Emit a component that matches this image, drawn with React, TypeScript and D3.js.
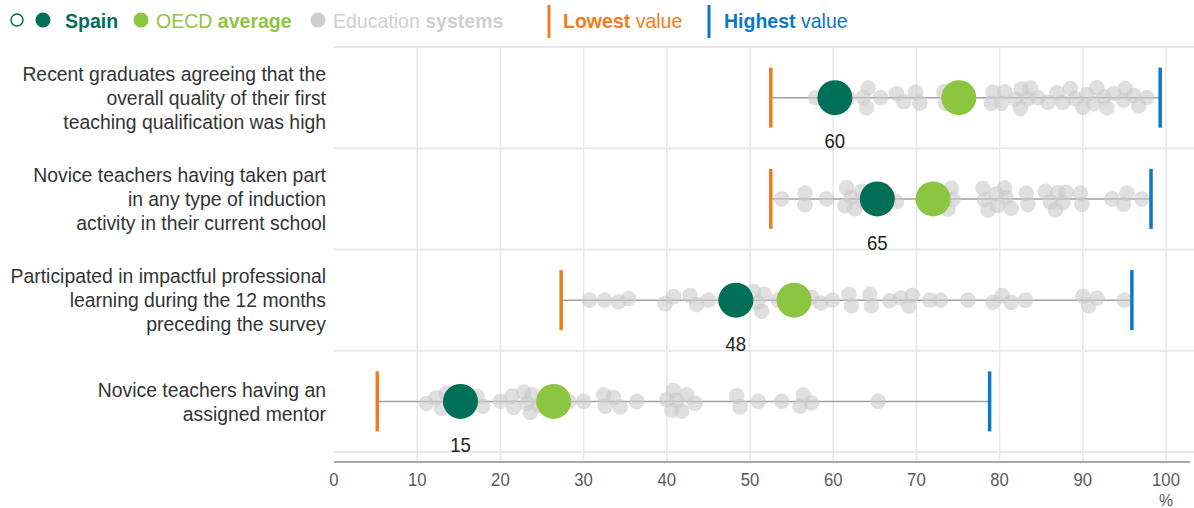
import React, { useMemo } from "react";
import * as d3 from "d3";

const categories = [
  ["Recent graduates agreeing that the", "overall quality of their first", "teaching qualification was high"],
  ["Novice teachers having taken part", "in any type of induction", "activity in their current school"],
  ["Participated in impactful professional", "learning during the 12 months", "preceding the survey"],
  ["Novice teachers having an", "assigned mentor"],
];
const spainValues = [60.2, 65.3, 48.3, 15.2];
const spainLabels = ["60", "65", "48", "15"];
const oecdValues = [75.1, 72.0, 55.3, 26.4];
const lowestValues = [52.5, 52.5, 27.3, 5.2];
const highestValues = [99.3, 98.2, 95.9, 78.8];
const systemsRow1 = [57.9, 61.8, 63.6, 64.2, 64.0, 65.7, 67.6, 68.5, 69.9, 70.4, 73.3, 73.5, 79.0, 79.2, 80.2, 80.6, 81.9, 82.5, 82.6, 83.4, 83.7, 84.6, 85.8, 86.9, 87.6, 88.5, 89.1, 90.0, 90.5, 91.3, 91.7, 92.5, 92.9, 93.7, 94.9, 95.1, 96.1, 96.7, 97.7];
const systemsRow2 = [53.8, 56.6, 56.6, 59.2, 61.4, 61.6, 62.2, 62.6, 63.4, 63.8, 66.5, 67.6, 73.8, 74.2, 74.4, 78.0, 78.2, 78.6, 79.6, 79.8, 80.6, 80.8, 81.4, 83.2, 83.4, 85.5, 86.1, 86.7, 87.0, 87.6, 88.0, 89.7, 89.9, 93.5, 94.9, 95.3, 97.1];
const systemsRow3 = [30.7, 32.5, 34.2, 35.4, 39.8, 40.8, 42.8, 43.6, 45.0, 46.9, 50.4, 50.9, 51.4, 51.7, 53.4, 57.4, 58.5, 59.9, 61.9, 62.2, 64.4, 64.6, 66.8, 68.1, 69.1, 69.5, 71.6, 72.9, 76.2, 79.2, 80.3, 81.4, 83.1, 90.0, 90.7, 91.7, 95.0];
const systemsRow4 = [11.1, 12.3, 12.9, 13.5, 14.0, 17.2, 17.9, 20.0, 21.4, 21.6, 22.8, 23.2, 23.6, 23.8, 24.6, 25.5, 28.2, 30.0, 32.4, 32.6, 33.6, 34.4, 36.4, 40.0, 40.6, 40.8, 41.2, 41.8, 42.4, 43.4, 48.4, 48.8, 51.0, 53.8, 56.0, 56.4, 57.4, 65.4];
const systems = [systemsRow1, systemsRow2, systemsRow3, systemsRow4];
const xTicks = [0, 10, 20, 30, 40, 50, 60, 70, 80, 90, 100];

const W = 1194, H = 508;
const FONT = "'Liberation Sans', Arial, sans-serif";
const C_SPAIN = "#006f57";
const C_OECD = "#8cc540";
const C_SYS = "#c9c9c9";
const C_LOW = "#f47a20";
const C_HIGH = "#0c78c3";
const SX = 0.93;

function NText({ x, y, children, anchor = "start", sx = SX, ...rest }: any) {
  return (
    <text transform={`translate(${x},${y}) scale(${sx},1)`} textAnchor={anchor} dominantBaseline="central" {...rest}>
      {children}
    </text>
  );
}

export default function App() {
  const x = d3.scaleLinear().domain([0, 100]).range([334, 1166]);
  const y = d3.scaleBand<number>().domain(d3.range(categories.length)).range([47, 452]).padding(0);
  const band = y.bandwidth();

  const swarms = useMemo(() => {
    return systems.map((vals) => {
      const nodes = vals.map((v, i) => ({ v, x: x(v), y: ((i * 7) % 5) - 2 }));
      const sim = d3
        .forceSimulation(nodes as any)
        .force("x", d3.forceX((d: any) => x(d.v)).strength(1))
        .force("y", d3.forceY(0).strength(0.1))
        .force("c", d3.forceCollide(5.8))
        .stop();
      for (let i = 0; i < 200; i++) sim.tick();
      return nodes.map((n: any) => ({ v: n.v, cx: x(n.v), dy: Math.max(-11, Math.min(11, n.y)) }));
    });
  }, []);

  return (
    <svg width={W} height={H} style={{ position: "absolute", left: 0, top: 0, background: "#fff" }} fontFamily={FONT}>
      {/* legend */}
      <g fontSize={21}>
        <circle cx={17} cy={20} r={6} fill="#fff" stroke={C_SPAIN} strokeWidth={1.5} />
        <circle cx={43} cy={20} r={7.5} fill={C_SPAIN} />
        <NText x={65} y={21} fill={C_SPAIN} fontWeight="bold">Spain</NText>
        <circle cx={141} cy={20} r={7.5} fill={C_OECD} />
        <NText x={156} y={21} fill={C_OECD}>OECD <tspan fontWeight="bold">average</tspan></NText>
        <circle cx={318} cy={20} r={7.5} fill={C_SYS} opacity={0.9} />
        <NText x={333} y={21} fill="#cfcfcf">Education <tspan fontWeight="bold">systems</tspan></NText>
        <line x1={549} x2={549} y1={5} y2={38} stroke={C_LOW} strokeWidth={3} />
        <NText x={563} y={21} fill={C_LOW}><tspan fontWeight="bold">Lowest</tspan> value</NText>
        <line x1={709} x2={709} y1={5} y2={38} stroke={C_HIGH} strokeWidth={3} />
        <NText x={724} y={21} fill={C_HIGH}><tspan fontWeight="bold">Highest</tspan> value</NText>
      </g>

      {/* gridlines */}
      {xTicks.slice(1).map((t) => (
        <line key={"g" + t} x1={x(t)} x2={x(t)} y1={47} y2={462} stroke="#e8e8e8" strokeWidth={1.5} />
      ))}
      {d3.range(categories.length + 1).map((i) => (
        <line key={"h" + i} x1={333} x2={1194} y1={47 + i * band} y2={47 + i * band} stroke="#e8e8e8" strokeWidth={2} />
      ))}

      {/* axis */}
      <line x1={334} x2={1190} y1={462} y2={462} stroke="#a6a6a6" strokeWidth={2} />
      {xTicks.map((t) => (
        <NText key={"t" + t} x={x(t)} y={480} fontSize={18} fill="#595959" anchor="middle">{t}</NText>
      ))}
      <NText x={x(100)} y={500} fontSize={17} fill="#595959" anchor="middle">%</NText>

      {categories.map((lines, i) => {
        const cy = (y(i) as number) + band / 2;
        const lh = 24;
        return (
          <g key={"r" + i}>
            {lines.map((l, j) => (
              <NText key={j} x={326} y={cy + (j - (lines.length - 1) / 2) * lh} fontSize={20.5} sx={0.945} fill="#333" anchor="end">{l}</NText>
            ))}
            <line x1={x(lowestValues[i])} x2={x(highestValues[i])} y1={cy} y2={cy} stroke="#a0a0a0" strokeWidth={1.5} />
            {swarms[i].map((d, k) => (
              <circle key={k} cx={d.cx} cy={cy + d.dy} r={7.8} fill={C_SYS} opacity={0.6} />
            ))}
            <line x1={x(lowestValues[i])} x2={x(lowestValues[i])} y1={cy - 30} y2={cy + 30} stroke={C_LOW} strokeWidth={3.5} />
            <line x1={x(highestValues[i])} x2={x(highestValues[i])} y1={cy - 30} y2={cy + 30} stroke={C_HIGH} strokeWidth={3.5} />
            <circle cx={x(oecdValues[i])} cy={cy} r={17.5} fill={C_OECD} />
            <circle cx={x(spainValues[i])} cy={cy} r={17.5} fill={C_SPAIN} />
            <NText x={x(spainValues[i])} y={cy + 44} fontSize={20} fill="#222" anchor="middle">{spainLabels[i]}</NText>
          </g>
        );
      })}
    </svg>
  );
}
